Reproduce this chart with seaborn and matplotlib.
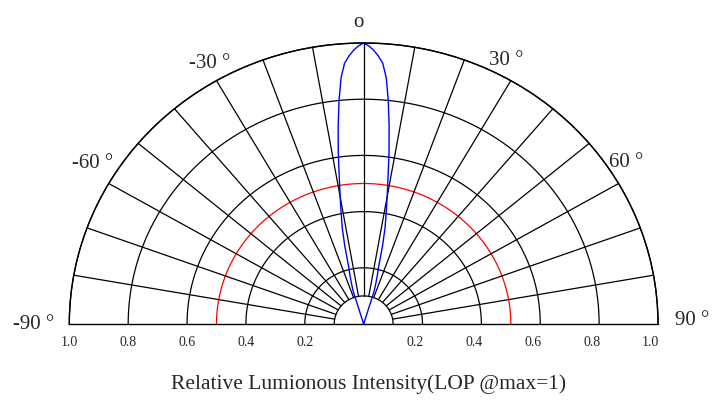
import numpy as np
import pandas as pd
import matplotlib
matplotlib.use("Agg")
import matplotlib.pyplot as plt
import seaborn as sns

# Radiation pattern (one half, mirrored for negative angles)
angle_deg = [0, 1, 2, 3, 4, 5, 6, 7, 8, 9, 10, 11, 12, 13, 14, 15, 16, 17, 18]
intensity = [1.0, 0.99, 0.975, 0.955, 0.93, 0.88, 0.80, 0.71, 0.62, 0.53,
             0.46, 0.40, 0.35, 0.285, 0.21, 0.18, 0.15, 0.12, 0.0]

ring_radii = [0.1, 0.2, 0.4, 0.6, 0.8, 1.0]
half_ring = 0.5
spoke_angles = list(range(-80, 90, 10))
tick_values = [1.0, 0.8, 0.6, 0.4, 0.2]
angle_labels = ["o", "-30 \u00b0", "30 \u00b0", "-60 \u00b0", "60 \u00b0", "-90 \u00b0", "90 \u00b0"]

sns.set_style("white")
plt.rcParams['font.family'] = ['Liberation Serif', 'DejaVu Serif']

W, H = 717, 405
fig = plt.figure(figsize=(W / 100, H / 100), dpi=100)
# the polar wedge box is square, so the half disc fills the middle half of the
# axes height: make the axes twice as tall as the half disc
R_h, R_v = 588.7, 281
ax = fig.add_axes([69.3 / W, (H - 324 - R_v / 2) / H, R_h / W, 2 * R_v / H],
                  projection='polar')
ax.set_theta_zero_location('N')
ax.set_theta_direction(-1)
ax.set_thetamin(-90)
ax.set_thetamax(90)
ax.set_ylim(0, 1)
ax.set_aspect('auto')
ax.patch.set_visible(False)
ax.grid(False)
ax.set_xticks([])
ax.set_yticks([])
for name, sp in ax.spines.items():
    sp.set_color('black')
    sp.set_linewidth(1.0)
ax.spines['inner'].set_visible(False)

lw = 0.9
arc = np.linspace(-np.pi / 2, np.pi / 2, 400)
for r in ring_radii:
    ax.plot(arc, np.full_like(arc, r), color='black', lw=lw, clip_on=False)
ax.plot(arc, np.full_like(arc, half_ring), color='#ff0000', lw=lw, clip_on=False)

for a in spoke_angles:
    t = np.deg2rad(a)
    ax.plot([t, t], [ring_radii[0], 1.0], color='black', lw=lw, clip_on=False)

# blue beam curve, symmetric
ang = np.array(angle_deg, dtype=float)
inten = np.array(intensity)
full_ang = np.concatenate([-ang[::-1], ang[1:]])
full_int = np.concatenate([inten[::-1], inten[1:]])
df = pd.DataFrame({'theta': np.deg2rad(full_ang), 'r': full_int})
sns.lineplot(data=df, x='theta', y='r', sort=False, ax=ax, color='#0000ff',
             lw=1.0, clip_on=False)
ax.set_xlabel('')
ax.set_ylabel('')

# radial tick labels below the baseline
for v in tick_values:
    ax.annotate(f"{v:.1f}", xy=(-np.pi / 2, v), xytext=(0, -22.5),
                textcoords='offset pixels', ha='center', va='baseline',
                fontsize=10, annotation_clip=False)
    ax.annotate(f"{v:.1f}", xy=(np.pi / 2, v), xytext=(1, -22.5),
                textcoords='offset pixels', ha='right', va='baseline',
                fontsize=10, annotation_clip=False)

# angle labels
label_pos = [(358, 27), (209.5, 68), (506.5, 65), (92.5, 168), (626.5, 167),
             (34, 329), (692.5, 325)]
for txt, (px, py) in zip(angle_labels, label_pos):
    fig.text(px / W, 1 - py / H, txt, ha='center', va='baseline', fontsize=15)

fig.text(368.5 / W, 1 - 389.3 / H, "Relative Lumionous Intensity(LOP @max=1)",
         ha='center', va='baseline', fontsize=15.5)

fig.savefig('out.png', dpi=100)
